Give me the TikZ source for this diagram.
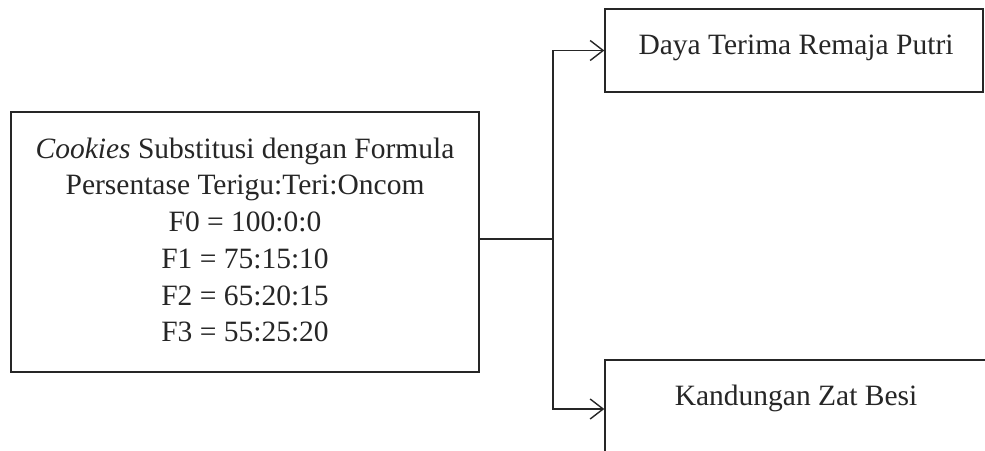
\documentclass[tikz,border=0pt]{standalone}
\usepackage{fontspec}
\setmainfont{Liberation Serif}
\usetikzlibrary{arrows.meta}
\begin{document}
\begin{tikzpicture}[x=1pt,y=-1pt,
  box/.style={draw=black!85, line width=1.4pt, inner sep=0pt},
  txt/.style={font=\fontsize{29.5}{36.7}\selectfont, align=center, text=black!85},
  conn/.style={draw=black!85, line width=1.4pt},
  arr/.style={conn, -{Straight Barb[length=13pt,width=20pt,line width=1.4pt]}}]
\useasboundingbox (0,0) rectangle (985,450);
\clip (0,0) rectangle (985,450);
\fill[white] (0,0) rectangle (985,450);
% left box
\node[box, minimum width=468pt, minimum height=260pt] (src) at (245,242) {};
\node[txt] (srctext) at (245,240) {\textit{Cookies} Substitusi dengan Formula\\Persentase Terigu:Teri:Oncom\\F0 = 100:0:0\\F1 = 75:15:10\\F2 = 65:20:15\\F3 = 55:25:20};
% top right box
\node[box, minimum width=378pt, minimum height=83pt] (top) at (794,50.5) {};
\node[txt] (toptext) at (796,48) {Daya Terima Remaja Putri};
% bottom right box (cut off by frame)
\node[box, minimum width=400pt, minimum height=120pt] (bot) at (805,420) {};
\node[txt] (bottext) at (796,398) {Kandungan Zat Besi};
% connectors
\coordinate (split) at (553,239);
\draw[conn] (src.east |- split) -- (split);
\draw[arr] (split) |- (top.west);
\draw[arr] (split) |- (bot.west |- 0,409);
\end{tikzpicture}
\end{document}
